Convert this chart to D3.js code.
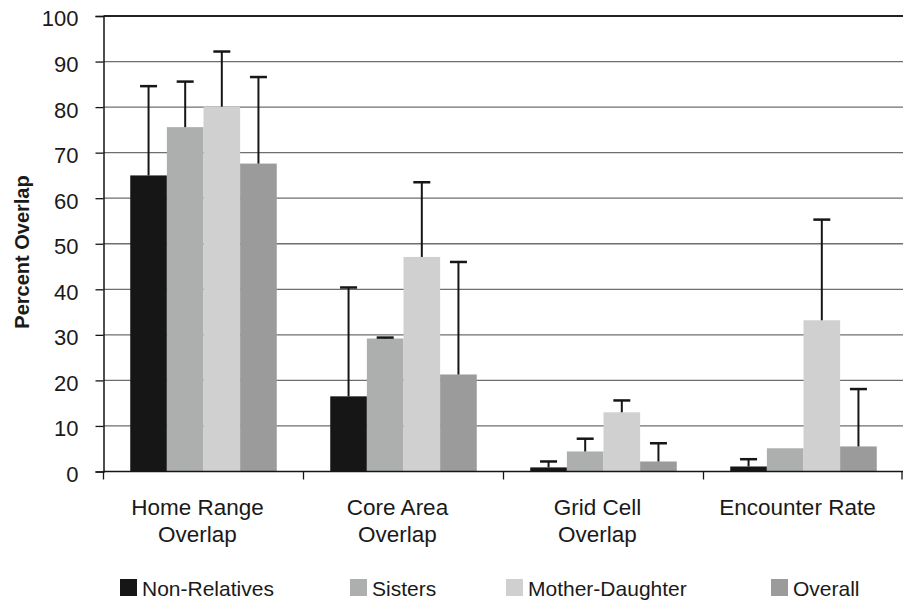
<!DOCTYPE html>
<html>
<head>
<meta charset="utf-8">
<script src="https://cdn.jsdelivr.net/npm/d3@7"></script>
<style>
  body { margin: 0; background: #fff; }
  text { font-family: "Liberation Sans", Arial, sans-serif; fill: #1a1a1a; }
</style>
</head>
<body>
<svg id="chart" width="903" height="602"></svg>
<script>
// categories (two text lines each)
let categories = ["Home Range Overlap", "Core Area Overlap", "Grid Cell Overlap", "Encounter Rate"]
let categoryLines = [["Home Range", "Overlap"], ["Core Area", "Overlap"], ["Grid Cell", "Overlap"], ["Encounter Rate"]]
let series = ["Non-Relatives", "Sisters", "Mother-Daughter", "Overall"]

// mean values per series (one per category)
let nonRelatives = [65.0, 16.5, 0.9, 1.1]
let sisters = [75.6, 29.2, 4.4, 5.1]
let motherDaughter = [80.1, 47.1, 13.0, 33.2]
let overall = [67.6, 21.3, 2.2, 5.5]

// top of error bars
let nonRelativesErr = [84.6, 40.4, 2.2, 2.7]
let sistersErr = [85.6, 29.4, 7.2, null]
let motherDaughterErr = [92.2, 63.5, 15.6, 55.3]
let overallErr = [86.6, 46.0, 6.2, 18.1]

let yTicks = [0, 10, 20, 30, 40, 50, 60, 70, 80, 90, 100]

let colores = ["#161616", "#adaeae", "#d0d0d0", "#9b9b9b"]

let valores = [nonRelatives, sisters, motherDaughter, overall]
let errores = [nonRelativesErr, sistersErr, motherDaughterErr, overallErr]

// tabla plana para dibujar
let filas = []
categories.forEach((c, i) => {
    series.forEach((s, j) => {
        filas.push({ cat: c, serie: s, value: valores[j][i], err: errores[j][i], color: colores[j] })
    })
})

let svg = d3.select("#chart")
let plotLeft = 103.5, plotRight = 903.5, plotTop = 16, plotBottom = 471.5

let x0 = d3.scaleBand().domain(categories).range([plotLeft, plotRight])
let x1 = d3.scaleBand().domain(series).range([0, x0.bandwidth()]).paddingOuter(0.73)
let y = d3.scaleLinear().domain([0, 100]).range([plotBottom, plotTop])
let color = d3.scaleOrdinal().domain(series).range(colores)

// lineas de grilla
svg.append("g")
    .selectAll("line")
    .data(yTicks.filter(t => t > 0 && t < 100))
    .join("line")
    .attr("x1", plotLeft).attr("x2", plotRight)
    .attr("y1", d => y(d)).attr("y2", d => y(d))
    .attr("stroke", "#6e6e6e")
    .attr("stroke-width", 1.3)

svg.append("line")
    .attr("x1", plotLeft).attr("x2", plotRight)
    .attr("y1", y(100)).attr("y2", y(100))
    .attr("stroke", "#222")
    .attr("stroke-width", 2)

// barras
svg.append("g")
    .selectAll("rect")
    .data(filas)
    .join("rect")
    .attr("x", d => x0(d.cat) + x1(d.serie))
    .attr("width", x1.bandwidth())
    .attr("y", d => y(d.value))
    .attr("height", d => y(0) - y(d.value))
    .attr("fill", d => color(d.serie))

// barras de error
let conError = filas.filter(d => d.err != null)
let errG = svg.append("g").attr("stroke", "#161616")
errG.selectAll("line.v")
    .data(conError)
    .join("line")
    .attr("class", "v")
    .attr("x1", d => x0(d.cat) + x1(d.serie) + x1.bandwidth() / 2)
    .attr("x2", d => x0(d.cat) + x1(d.serie) + x1.bandwidth() / 2)
    .attr("y1", d => y(d.value))
    .attr("y2", d => y(d.err))
    .attr("stroke-width", 2)
errG.selectAll("line.cap")
    .data(conError)
    .join("line")
    .attr("class", "cap")
    .attr("x1", d => x0(d.cat) + x1(d.serie) + x1.bandwidth() / 2 - 8.5)
    .attr("x2", d => x0(d.cat) + x1(d.serie) + x1.bandwidth() / 2 + 8.5)
    .attr("y1", d => y(d.err))
    .attr("y2", d => y(d.err))
    .attr("stroke-width", 2.5)

// eje Y
let yAxis = svg.append("g")
    .attr("transform", `translate(${plotLeft},0)`)
    .call(d3.axisLeft(y).tickValues(yTicks).tickSize(8).tickPadding(17))
yAxis.select(".domain").attr("stroke", "#161616").attr("stroke-width", 1.5)
yAxis.selectAll(".tick line").attr("stroke", "#161616").attr("stroke-width", 1.3)
yAxis.selectAll(".tick text")
    .attr("font-size", 22)
    .attr("font-family", "Liberation Sans, Arial, sans-serif")
    .attr("fill", "#1a1a1a")
    .attr("dy", "0.45em")

// eje X
svg.append("line")
    .attr("x1", plotLeft).attr("x2", plotRight)
    .attr("y1", plotBottom).attr("y2", plotBottom)
    .attr("stroke", "#161616").attr("stroke-width", 1.5)

let cortes = categories.map(c => x0(c)).concat([x0(categories[categories.length - 1]) + x0.bandwidth()])
svg.append("g")
    .selectAll("line")
    .data(cortes)
    .join("line")
    .attr("x1", d => Math.min(d, 902)).attr("x2", d => Math.min(d, 902))
    .attr("y1", plotBottom).attr("y2", plotBottom + 8)
    .attr("stroke", "#161616").attr("stroke-width", 1.3)

let etiquetas = svg.append("g")
    .selectAll("text")
    .data(categories)
    .join("text")
    .attr("x", d => x0(d) + x0.bandwidth() / 2 - 6)
    .attr("y", 515)
    .attr("text-anchor", "middle")
    .attr("font-size", 22.5)
etiquetas.selectAll("tspan")
    .data((d, i) => categoryLines[i])
    .join("tspan")
    .attr("x", function () { return d3.select(this.parentNode).attr("x") })
    .attr("dy", (d, i) => i === 0 ? 0 : 26.5)
    .text(d => d)

// titulo eje Y
svg.append("text")
    .attr("transform", "translate(29,252) rotate(-90)")
    .attr("text-anchor", "middle")
    .attr("font-size", 20)
    .attr("font-weight", "bold")
    .text("Percent Overlap")

// leyenda
let leyendaX = [120, 350, 506, 771]
let leyenda = svg.append("g")
    .selectAll("g")
    .data(series)
    .join("g")
    .attr("transform", (d, i) => `translate(${leyendaX[i]},579)`)
leyenda.append("rect")
    .attr("width", 17).attr("height", 17)
    .attr("fill", d => color(d))
leyenda.append("text")
    .attr("x", 22)
    .attr("y", 16.5)
    .attr("font-size", 21)
    .text(d => d)
</script>
</body>
</html>
